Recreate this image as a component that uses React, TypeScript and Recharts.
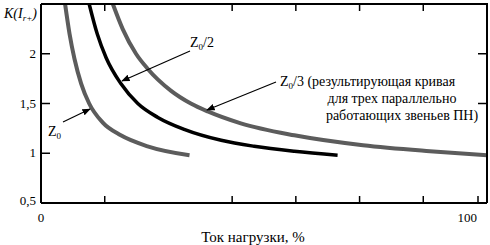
import React from 'react';
import { LineChart, Line, XAxis, YAxis } from 'recharts';

// load current, % of rated (x) and K(I) (y)
const z0Load = [5.4, 6.4, 7.5, 9.0, 10.8, 13.8, 17.9, 23.9, 33.3];
const z0K = [2.5, 2.2, 1.95, 1.7, 1.5, 1.31, 1.18, 1.07, 0.98];

const z0HalfLoad = [10.8, 12.6, 14.6, 17.9, 21.7, 26.2, 32.1, 40.4, 47.8, 56.8, 66.5];
const z0HalfK = [2.5, 2.2, 1.96, 1.7, 1.5, 1.36, 1.24, 1.13, 1.07, 1.02, 0.98];

const z0ThirdLoad = [16.1, 18.3, 21.3, 23.9, 29.1, 33.6, 37.4, 44.8, 56.8, 72.2, 87.2, 100];
const z0ThirdK = [2.5, 2.25, 2.0, 1.85, 1.63, 1.5, 1.42, 1.3, 1.18, 1.08, 1.02, 0.98];

const xTicks = [0, 14.29, 42.86, 57.14, 71.43, 85.71, 100];
const xTickLabels: Record<number, string> = { 0: '0', 100: '100' };
const yTicks = [0.5, 1, 1.5, 2];
const rightTicks = [1.5, 2];
const X_MAX = 100;
const Y_MIN = 0.5;
const Y_MAX = 2.5;

// plot box (matches chart margins / axis sizes below)
const BOX = { left: 41, top: 4, right: 487, bottom: 203 };
const sx = (v: number) => BOX.left + (v / X_MAX) * (BOX.right - BOX.left);
const sy = (v: number) => BOX.bottom - ((v - Y_MIN) / (Y_MAX - Y_MIN)) * (BOX.bottom - BOX.top);

const FONT = "'Times New Roman', Times, 'Liberation Serif', 'DejaVu Serif', serif";
const GRAY = '#5c5c5c';
const FRAME = '#000';
const tickStyle = { fontFamily: FONT, fontSize: 13, fill: '#000' };
const textStyle = { fontFamily: FONT, fontSize: 14, fill: '#000' };

const toPoints = (xs: number[], ks: number[]) => xs.map((x, i) => ({ load: x, k: ks[i] }));

const BottomTick = ({ x, y, payload }: any) => {
	const label = xTickLabels[payload.value];
	return (
		<g>
			<line x1={x} x2={x} y1={y} y2={y - 7} stroke="#000" strokeWidth={1.5} />
			{label && (
				<text
					x={payload.value === 100 ? x - 1 : x}
					y={y + 19}
					textAnchor={payload.value === 100 ? 'end' : 'middle'}
					style={tickStyle}
				>
					{label}
				</text>
			)}
		</g>
	);
};

const LeftTick = ({ x, y, payload }: any) => (
	<g>
		<line x1={x} x2={x + 9} y1={y} y2={y} stroke="#000" strokeWidth={1.5} />
		<text
			x={x - 5}
			y={(payload.value === 0.5 ? y - 2 : y) + 4}
			textAnchor="end"
			style={tickStyle}
		>
			{String(payload.value).replace('.', ',')}
		</text>
	</g>
);

const Sub = ({ children }: { children: string }) => (
	<tspan style={{ fontSize: 9, fill: '#000' }} dy={3}>
		{children}
	</tspan>
);

const Annotations = () => (
	<svg
		width={490}
		height={245}
		style={{ position: 'absolute', left: 0, top: 0, pointerEvents: 'none' }}
	>
		<defs>
			<marker id="arrow" viewBox="0 0 10 10" refX="9" refY="5" markerWidth="7" markerHeight="7" orient="auto">
				<path d="M0,1 L10,5 L0,9 z" fill="#000" />
			</marker>
		</defs>

		{/* top and right edges of the frame with inward ticks */}
		<line x1={BOX.left} x2={BOX.right + 1} y1={BOX.top} y2={BOX.top} stroke={FRAME} strokeWidth={2} />
		<line x1={BOX.right} x2={BOX.right} y1={BOX.top} y2={BOX.bottom} stroke={FRAME} strokeWidth={2} />
		{xTicks.slice(1, -1).map((t) => (
			<line key={`t${t}`} x1={sx(t)} x2={sx(t)} y1={BOX.top} y2={BOX.top + 7} stroke={FRAME} strokeWidth={1.5} />
		))}
		{rightTicks.map((t) => (
			<line key={`r${t}`} x1={BOX.right} x2={BOX.right - 9} y1={sy(t)} y2={sy(t)} stroke={FRAME} strokeWidth={1.5} />
		))}

		{/* y axis title */}
		<text x={4} y={18} style={{ ...tickStyle, fontSize: 14, fontStyle: 'italic' }}>
			K(I<Sub>r+</Sub>
			<tspan dy={-3}>)</tspan>
		</text>

		{/* Z0 */}
		<line x1={63} y1={122} x2={90} y2={109} stroke="#000" strokeWidth={1.2} markerEnd="url(#arrow)" />
		<text x={48} y={136} style={textStyle}>
			Z<Sub>0</Sub>
		</text>

		{/* Z0/2 */}
		<line x1={190} y1={51} x2={122} y2={81} stroke="#000" strokeWidth={1.2} markerEnd="url(#arrow)" />
		<text x={190} y={47} style={textStyle}>
			Z<Sub>0</Sub>
			<tspan dy={-3}>/2</tspan>
		</text>

		{/* Z0/3 */}
		<line x1={276} y1={82} x2={207} y2={110} stroke="#000" strokeWidth={1.2} markerEnd="url(#arrow)" />
		<text x={280} y={86} style={textStyle}>
			Z<Sub>0</Sub>
			<tspan dy={-3}>/3 (результирующая кривая</tspan>
		</text>
		<text x={392} y={103} textAnchor="middle" style={textStyle}>
			для трех параллельно
		</text>
		<text x={402} y={120} textAnchor="middle" style={textStyle}>
			работающих звеньев ПН)
		</text>

		{/* x axis title */}
		<text x={253} y={242} textAnchor="middle" style={{ ...textStyle, fontSize: 15 }}>
			Ток нагрузки, %
		</text>
	</svg>
);

const App = () => {
	return (
		<div style={{ position: 'absolute', left: 0, top: 0, width: 490, height: 245, background: '#fff' }}>
			<LineChart width={490} height={245} margin={{ top: BOX.top, right: 490 - BOX.right, bottom: 0, left: 0 }}>
				<XAxis
					dataKey="load"
					type="number"
					domain={[0, X_MAX]}
					ticks={xTicks}
					height={245 - BOX.bottom}
					tickSize={0}
					tickMargin={0}
					tickLine={false}
					tick={<BottomTick />}
					axisLine={{ stroke: '#000', strokeWidth: 2 }}
				/>
				<YAxis
					type="number"
					domain={[Y_MIN, Y_MAX]}
					ticks={yTicks}
					width={BOX.left}
					tickSize={0}
					tickMargin={0}
					tickLine={false}
					tick={<LeftTick />}
					axisLine={{ stroke: '#000', strokeWidth: 2 }}
				/>
				<Line
					data={toPoints(z0Load, z0K)}
					dataKey="k"
					type="monotone"
					stroke={GRAY}
					strokeWidth={4}
					dot={false}
					isAnimationActive={false}
				/>
				<Line
					data={toPoints(z0HalfLoad, z0HalfK)}
					dataKey="k"
					type="monotone"
					stroke="#000"
					strokeWidth={3.5}
					dot={false}
					isAnimationActive={false}
				/>
				<Line
					data={toPoints(z0ThirdLoad, z0ThirdK)}
					dataKey="k"
					type="monotone"
					stroke={GRAY}
					strokeWidth={4}
					dot={false}
					isAnimationActive={false}
				/>
			</LineChart>
			<Annotations />
		</div>
	);
};

export default App;
